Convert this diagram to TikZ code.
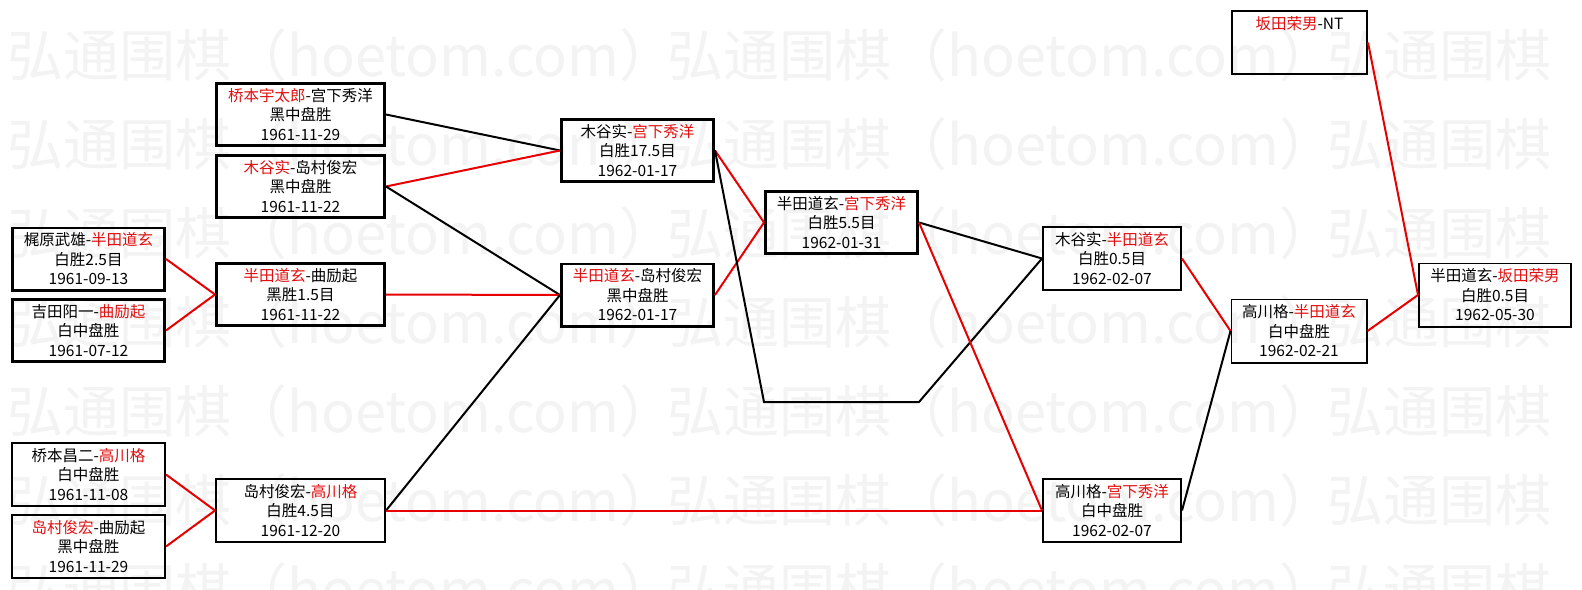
\documentclass[tikz,border=0pt]{standalone}
\usepackage{fontspec}
\usepackage{xcolor}
\usepackage{tikz}
\usetikzlibrary{positioning}
\newfontfamily\cjk{Noto Sans CJK SC}
\definecolor{winred}{RGB}{225, 15, 15}
\definecolor{linkred}{RGB}{232, 0, 0}
\definecolor{marktext}{RGB}{243, 243, 243}
\newcommand{\winner}[1]{\textcolor{winred}{#1}}

\tikzset{
  game/.style={draw=black, line width=1.8pt, inner sep=0pt, minimum height=63.2pt,
               align=center, text=black, font=\cjk\fontsize{15.5}{19.5}\selectfont},
  boldgame/.style={game, line width=2.6pt, minimum height=62.4pt},
  link/.style={line width=2pt, black},
  winlink/.style={line width=2pt, linkred},
  watermark/.style={anchor=west, inner sep=0pt, text=marktext, font=\cjk\fontsize{56}{60}\selectfont},
}

\begin{document}
\begin{tikzpicture}[x=1pt, y=-1pt]
    \useasboundingbox (0,0) rectangle (1582,589);
    \fill[white] (0,0) rectangle (1582,589);

    % watermark in the background
    \begin{scope}
        \clip (0,0) rectangle (1582,589);
        \foreach \row in {0,...,6}
            \foreach \col in {0,1,2}
                \node[watermark] (wm-\row-\col) at ({7+660*\col},{55+89*\row}) {弘通围棋（hoetom.com）};
    \end{scope}

    % first games
    \node[boldgame, minimum width=168.4pt] (hashimotoU-miyashita) at (300.5,114.5)
        {\winner{桥本宇太郎}-宫下秀洋\\黑中盘胜\\1961-11-29};
    \node[boldgame, minimum width=168.4pt] (kitani-shimamura) at (300.5,186.5)
        {\winner{木谷实}-岛村俊宏\\黑中盘胜\\1961-11-22};
    \node[boldgame, minimum width=152.4pt] (kajiwara-handa) at (88.5,259)
        {梶原武雄-\winner{半田道玄}\\白胜2.5目\\1961-09-13};
    \node[boldgame, minimum width=152.4pt] (yoshida-qu) at (88.5,330.5)
        {吉田阳一-\winner{曲励起}\\白中盘胜\\1961-07-12};
    \node[boldgame, minimum width=168.4pt] (handa-qu) at (300.5,294.5)
        {\winner{半田道玄}-曲励起\\黑胜1.5目\\1961-11-22};
    \node[game, minimum width=153.2pt] (hashimotoS-takagawa) at (88.5,474.5)
        {桥本昌二-\winner{高川格}\\白中盘胜\\1961-11-08};
    \node[game, minimum width=153.2pt] (shimamura-qu) at (88.5,546.5)
        {\winner{岛村俊宏}-曲励起\\黑中盘胜\\1961-11-29};
    \node[game, minimum width=169.2pt] (shimamura-takagawa) at (300.5,510.5)
        {岛村俊宏-\winner{高川格}\\白胜4.5目\\1961-12-20};

    % middle rounds
    \node[boldgame, minimum width=152.4pt] (kitani-miyashita) at (637.5,150.5)
        {木谷实-\winner{宫下秀洋}\\白胜17.5目\\1962-01-17};
    \node[boldgame, minimum width=152.4pt] (handa-shimamura) at (637.5,295)
        {\winner{半田道玄}-岛村俊宏\\黑中盘胜\\1962-01-17};
    \node[boldgame, minimum width=152.4pt] (handa-miyashita) at (841.5,222.5)
        {半田道玄-\winner{宫下秀洋}\\白胜5.5目\\1962-01-31};

    % final rounds
    \node[game, minimum width=138.2pt] (kitani-handa) at (1112,258.5)
        {木谷实-\winner{半田道玄}\\白胜0.5目\\1962-02-07};
    \node[game, minimum width=138.2pt] (takagawa-miyashita) at (1112,510.5)
        {高川格-\winner{宫下秀洋}\\白中盘胜\\1962-02-07};
    \node[game, minimum width=135.2pt] (takagawa-handa) at (1299,331)
        {高川格-\winner{半田道玄}\\白中盘胜\\1962-02-21};
    \node[game, minimum width=135.2pt] (sakata-nt) at (1299.5,42.5)
        {\winner{坂田荣男}-NT\\\phantom{白}\\\phantom{1}};
    \node[game, minimum width=152.2pt] (handa-sakata) at (1495,295)
        {半田道玄-\winner{坂田荣男}\\白胜0.5目\\1962-05-30};

    \coordinate (loser-down) at (764,402);
    \coordinate (loser-up) at (919,402);

    % connectors
    \draw[link] (hashimotoU-miyashita.east) -- (kitani-miyashita.west);
    \draw[winlink] (kitani-shimamura.east) -- (kitani-miyashita.west);
    \draw[link] (kitani-shimamura.east) -- (handa-shimamura.west);
    \draw[winlink] (kajiwara-handa.east) -- (handa-qu.west);
    \draw[winlink] (yoshida-qu.east) -- (handa-qu.west);
    \draw[winlink] (handa-qu.east) -- (handa-shimamura.west);
    \draw[winlink] (hashimotoS-takagawa.east) -- (shimamura-takagawa.west);
    \draw[winlink] (shimamura-qu.east) -- (shimamura-takagawa.west);
    \draw[link] (shimamura-takagawa.east) -- (handa-shimamura.west);
    \draw[winlink] (shimamura-takagawa.east) -- (takagawa-miyashita.west);
    \draw[winlink] (kitani-miyashita.east) -- (handa-miyashita.west);
    \draw[winlink] (handa-shimamura.east) -- (handa-miyashita.west);
    \draw[link] (kitani-miyashita.east) -- (loser-down) -- (loser-up) -- (kitani-handa.west);
    \draw[link] (handa-miyashita.east) -- (kitani-handa.west);
    \draw[winlink] (handa-miyashita.east) -- (takagawa-miyashita.west);
    \draw[winlink] (kitani-handa.east) -- (takagawa-handa.west);
    \draw[link] (takagawa-miyashita.east) -- (takagawa-handa.west);
    \draw[winlink] (takagawa-handa.east) -- (handa-sakata.west);
    \draw[winlink] (sakata-nt.east) -- (handa-sakata.west);
\end{tikzpicture}
\end{document}
